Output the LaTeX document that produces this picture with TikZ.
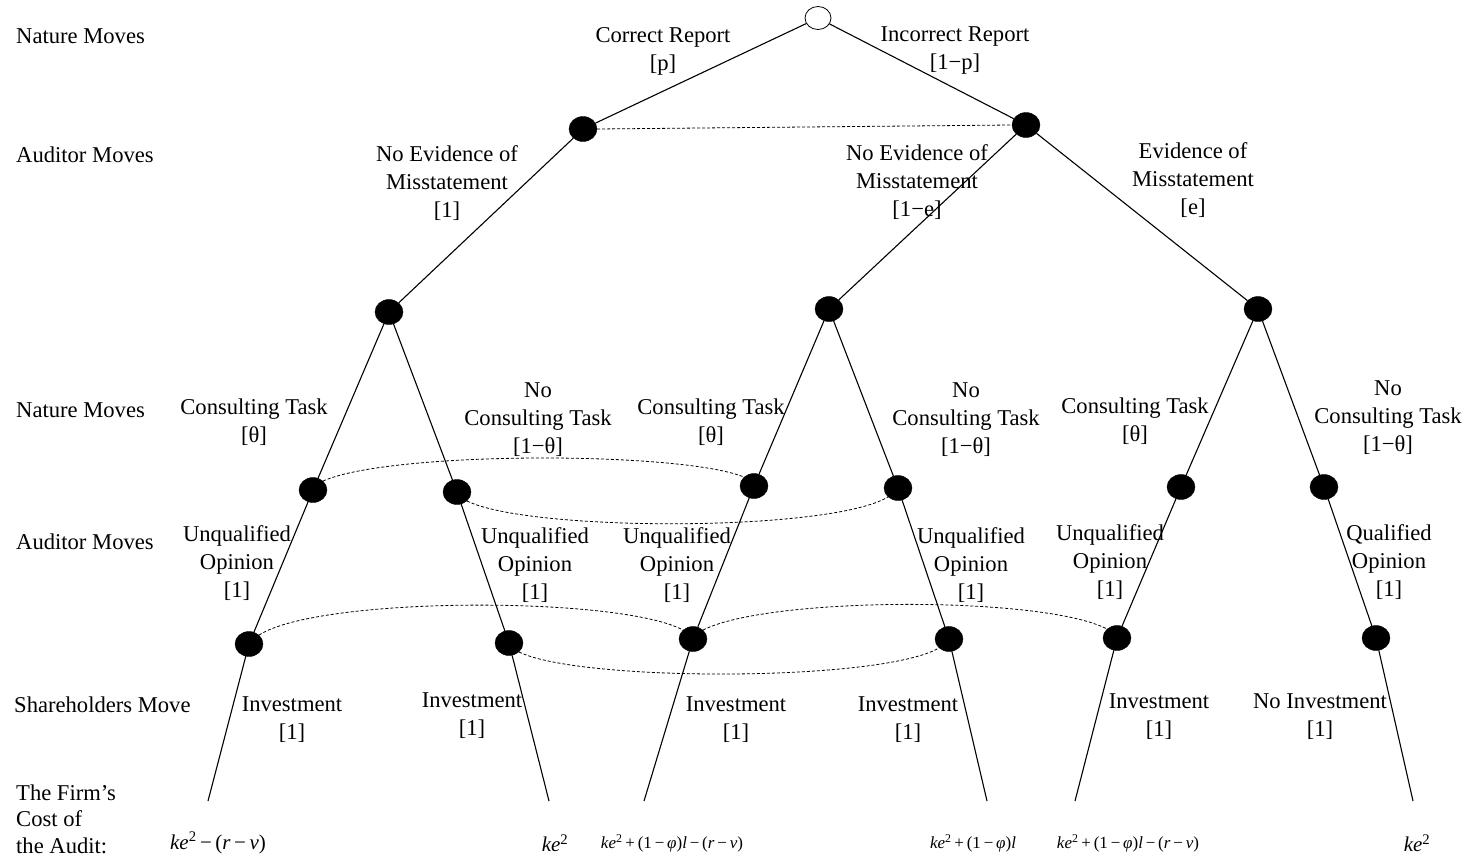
\documentclass[tikz,border=0pt]{standalone}
\usepackage{fontspec}
\setmainfont{Liberation Serif}
\usetikzlibrary{shapes.geometric}
\begin{document}
\begin{tikzpicture}[x=1pt,y=-1pt,
  dot/.style={ellipse,fill=black,draw=black,minimum width=28pt,minimum height=25pt,inner sep=0pt},
  root/.style={ellipse,fill=white,draw=black,line width=0.8pt,minimum width=26pt,minimum height=23pt,inner sep=0pt},
  edge/.style={line width=1.1pt},
  infoset/.style={line width=0.8pt,dash pattern=on 3pt off 2pt},
  lab/.style={align=center,inner sep=0pt,font=\fontsize{22.6}{28}\selectfont},
  side/.style={align=left,anchor=west,inner sep=0pt,font=\fontsize{22.6}{26.5}\selectfont},
  pay/.style={inner sep=0pt,font=\fontsize{21}{26}\selectfont},
  paysm/.style={inner sep=0pt,font=\fontsize{17}{20}\selectfont}
]
\useasboundingbox (0,0) rectangle (1463,860);
% nodes
\node[root] (r) at (818,18) {};
\node[dot] (a1) at (583,129) {};
\node[dot] (a2) at (1026,125) {};
\node[dot] (b1) at (389,312) {};
\node[dot] (b2) at (829,309) {};
\node[dot] (b3) at (1258,309) {};
\node[dot] (c1) at (313,490) {};
\node[dot] (c2) at (457,492) {};
\node[dot] (c3) at (754,486) {};
\node[dot] (c4) at (898,488) {};
\node[dot] (c5) at (1181,487) {};
\node[dot] (c6) at (1324,487) {};
\node[dot] (d1) at (249,644) {};
\node[dot] (d2) at (509,643) {};
\node[dot] (d3) at (693,639) {};
\node[dot] (d4) at (949,639) {};
\node[dot] (d5) at (1117,638) {};
\node[dot] (d6) at (1376,638) {};
\coordinate (e1) at (208,801);
\coordinate (e2) at (549,801);
\coordinate (e3) at (644,801);
\coordinate (e4) at (987,801);
\coordinate (e5) at (1075,801);
\coordinate (e6) at (1413,801);
% edges
\draw[edge] (r) -- (a1);
\draw[edge] (r) -- (a2);
\draw[edge] (a1) -- (b1);
\draw[edge] (a2) -- (b2);
\draw[edge] (a2) -- (b3);
\draw[edge] (b1) -- (c1);
\draw[edge] (b1) -- (c2);
\draw[edge] (b2) -- (c3);
\draw[edge] (b2) -- (c4);
\draw[edge] (b3) -- (c5);
\draw[edge] (b3) -- (c6);
\draw[edge] (c1) -- (d1);
\draw[edge] (c2) -- (d2);
\draw[edge] (c3) -- (d3);
\draw[edge] (c4) -- (d4);
\draw[edge] (c5) -- (d5);
\draw[edge] (c6) -- (d6);
\draw[edge] (d1) -- (e1);
\draw[edge] (d2) -- (e2);
\draw[edge] (d3) -- (e3);
\draw[edge] (d4) -- (e4);
\draw[edge] (d5) -- (e5);
\draw[edge] (d6) -- (e6);
% information sets
\draw[infoset] (a1.east) -- (a2.west);
\draw[infoset] (c1.north east) .. controls (390,451) and (680,451) .. (c3.north west);
\draw[infoset] (c2.south east) .. controls (530,532) and (830,532) .. (c4.south west);
\draw[infoset] (d1.north east) .. controls (320,596) and (620,596) .. (d3.north west);
\draw[infoset] (d3.north east) .. controls (770,596) and (1045,596) .. (d5.north west);
\draw[infoset] (d2.south east) .. controls (580,682) and (880,682) .. (d4.south west);
% side labels
\node[side] (s1) at (16,36) {Nature Moves};
\node[side] (s2) at (16,155) {Auditor Moves};
\node[side] (s3) at (16,410) {Nature Moves};
\node[side] (s4) at (16,542) {Auditor Moves};
\node[side] (s5) at (14,705) {Shareholders Move};
\node[side] (s6) at (16,819) {The Firm’s\\Cost of\\the Audit:};
% edge labels
\node[lab] (l1) at (663,51) {Correct Report\\{[p]}};
\node[lab] (l2) at (955,51) {Incorrect Report\\{[1−p]}};
\node[lab] (l3) at (447,183) {No Evidence of\\Misstatement\\{[1]}};
\node[lab] (l4) at (917,182) {No Evidence of\\Misstatement\\{[1−e]}};
\node[lab] (l5) at (1193,180) {Evidence of\\Misstatement\\{[e]}};
\node[lab] (l6) at (254,422) {Consulting Task\\{[θ]}};
\node[lab] (l7) at (538,420) {No\\Consulting Task\\{[1−θ]}};
\node[lab] (l8) at (711,422) {Consulting Task\\{[θ]}};
\node[lab] (l9) at (966,420) {No\\Consulting Task\\{[1−θ]}};
\node[lab] (l10) at (1135,421) {Consulting Task\\{[θ]}};
\node[lab] (l11) at (1388,418) {No\\Consulting Task\\{[1−θ]}};
\node[lab] (l12) at (237,563) {Unqualified\\Opinion\\{[1]}};
\node[lab] (l13) at (535,565) {Unqualified\\Opinion\\{[1]}};
\node[lab] (l14) at (677,565) {Unqualified\\Opinion\\{[1]}};
\node[lab] (l15) at (971,565) {Unqualified\\Opinion\\{[1]}};
\node[lab] (l16) at (1110,562) {Unqualified\\Opinion\\{[1]}};
\node[lab] (l17) at (1389,562) {Qualified\\Opinion\\{[1]}};
\node[lab] (l18) at (292,720) {Investment\\{[1]}};
\node[lab] (l19) at (472,716) {Investment\\{[1]}};
\node[lab] (l20) at (736,720) {Investment\\{[1]}};
\node[lab] (l21) at (908,720) {Investment\\{[1]}};
\node[lab] (l22) at (1159,717) {Investment\\{[1]}};
\node[lab] (l23) at (1320,717) {No Investment\\{[1]}};
% payoffs
\node[pay] (p1) at (218,843) {\textit{ke}\textsuperscript{2}\,−\,(\textit{r}\,−\,\textit{v})};
\node[pay] (p2) at (555,843) {\textit{ke}\textsuperscript{2}};
\node[paysm] (p3) at (672,843) {\textit{ke}\textsuperscript{2}\,+\,(1\,−\,\textit{φ})\textit{l}\,−\,(\textit{r}\,−\,\textit{v})};
\node[paysm] (p4) at (973,843) {\textit{ke}\textsuperscript{2}\,+\,(1\,−\,\textit{φ})\textit{l}};
\node[paysm] (p5) at (1128,843) {\textit{ke}\textsuperscript{2}\,+\,(1\,−\,\textit{φ})\textit{l}\,−\,(\textit{r}\,−\,\textit{v})};
\node[pay] (p6) at (1417,843) {\textit{ke}\textsuperscript{2}};
\end{tikzpicture}
\end{document}
